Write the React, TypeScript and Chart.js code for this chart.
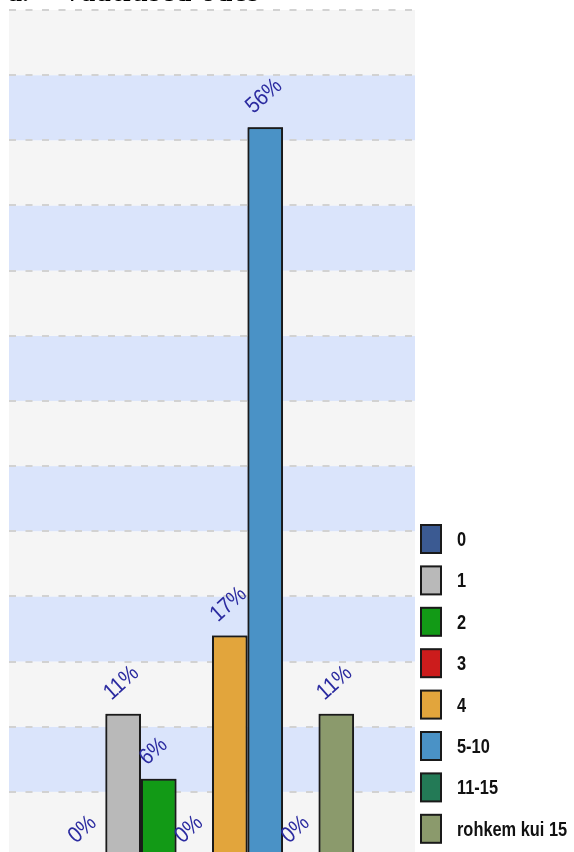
import React, { useEffect, useRef } from "react";
import { Chart, registerables } from "chart.js";

Chart.register(...registerables);

const categories = ["0", "1", "2", "3", "4", "5-10", "11-15", "rohkem kui 15"];
const values = [0, 11, 6, 0, 17, 56, 0, 11];
const valueLabels = ["0%", "11%", "6%", "0%", "17%", "56%", "0%", "11%"];
const barColors = ["#3b5a92", "#b9b9b9", "#129a16", "#cc1c1c", "#e2a53c", "#4a92c6", "#237a56", "#8b9a6c"];
const yMax = 65;
const yStep = 5;

const bandsPlugin = {
  id: "bands",
  beforeDraw(chart: any) {
    const { ctx, chartArea, scales } = chart;
    const y = scales.y;
    ctx.save();
    for (let v = 0, k = 0; v < yMax; v += yStep, k++) {
      const top = y.getPixelForValue(v + yStep);
      const bot = y.getPixelForValue(v);
      ctx.fillStyle = k % 2 === 0 ? "#f5f5f5" : "#dae4fb";
      ctx.fillRect(chartArea.left, top, chartArea.right - chartArea.left, bot - top);
    }
    ctx.restore();
  },
};

// Draw bars left-to-right, each followed by its label, so later bars cover earlier labels
const labelsPlugin = {
  id: "valueLabels",
  afterDatasetsDraw(chart: any) {
    const { ctx, chartArea } = chart;
    chart.data.datasets.forEach((ds: any, i: number) => {
      const el = chart.getDatasetMeta(i).data[0] as any;
      if (!el) return;
      ctx.save();
      ctx.beginPath();
      ctx.rect(chartArea.left, chartArea.top, chartArea.right - chartArea.left, chartArea.bottom - chartArea.top);
      ctx.clip();
      el.draw(ctx, chartArea);
      ctx.restore();
      const left = el.x - el.width / 2;
      ctx.save();
      ctx.fillStyle = "#2b2ba0";
      ctx.font = "19px 'Liberation Sans', sans-serif";
      ctx.textAlign = "left";
      ctx.textBaseline = "alphabetic";
      ctx.translate(left + 6, el.y - 13);
      ctx.rotate((-42 * Math.PI) / 180);
      ctx.scale(1.05, 1.2);
      ctx.fillText(ds.valueLabel, 0, 0);
      ctx.restore();
    });
  },
};

const legendPlugin = {
  id: "customLegend",
  afterDraw(chart: any) {
    const { ctx, chartArea } = chart;
    const boxX = chartArea.right + 6;
    const firstTop = 525;
    const step = 41.4;
    ctx.save();
    chart.data.datasets.forEach((ds: any, i: number) => {
      const top = firstTop + i * step;
      ctx.fillStyle = ds.backgroundColor;
      ctx.fillRect(boxX, top, 20, 28);
      ctx.strokeStyle = "#1a1a1a";
      ctx.lineWidth = 2;
      ctx.strokeRect(boxX, top, 20, 28);
      ctx.save();
      ctx.translate(boxX + 36, top + 21);
      ctx.scale(0.78, 1);
      ctx.fillStyle = "#111";
      ctx.font = "bold 21px 'Liberation Sans', sans-serif";
      ctx.textAlign = "left";
      ctx.textBaseline = "alphabetic";
      ctx.fillText(ds.label, 0, 0);
      ctx.restore();
    });
    ctx.restore();
  },
};

function BarChart() {
  const ref = useRef<HTMLCanvasElement>(null);
  useEffect(() => {
    if (!ref.current) return;
    const chart = new Chart(ref.current, {
      type: "bar",
      data: {
        labels: [""],
        datasets: categories.map((c, i) => ({
          label: c,
          data: [values[i]],
          valueLabel: valueLabels[i],
          backgroundColor: barColors[i],
          borderColor: "#1a1a1a",
          borderWidth: 2,
          barPercentage: 1,
          categoryPercentage: 0.7,
        })) as any,
      },
      options: {
        responsive: false,
        animation: false,
        devicePixelRatio: 1,
        layout: { padding: { left: 9, top: 10, right: 159, bottom: 1 } },
        plugins: {
          legend: { display: false },
          title: { display: false },
          tooltip: { enabled: false },
        },
        scales: {
          x: { display: false, offset: true },
          y: {
            min: 0,
            max: yMax,
            ticks: { display: false, stepSize: yStep },
            border: { display: false, dash: [7, 9.5] },
            grid: {
              drawTicks: false,
              color: "#d2d2d2",
              lineWidth: 2,
            },
          },
        },
      },
      plugins: [bandsPlugin, labelsPlugin, legendPlugin],
    });
    return () => chart.destroy();
  }, []);
  return (
    <canvas
      ref={ref}
      width={574}
      height={858}
      style={{ position: "absolute", left: 0, top: 0, width: 574, height: 858 }}
    />
  );
}

export default function App() {
  return (
    <div
      style={{
        position: "fixed",
        left: 0,
        top: 0,
        width: 574,
        height: 852,
        overflow: "hidden",
        background: "#fff",
      }}
    >
      <BarChart />
      <div
        style={{
          position: "absolute",
          left: 8,
          top: -22,
          fontFamily: "'Liberation Serif', serif",
          fontWeight: "bold",
          fontSize: 28,
          lineHeight: "28px",
          whiteSpace: "nowrap",
          color: "#000",
        }}
      >
        <span>a.</span>
        <span style={{ position: "absolute", left: 54, letterSpacing: 1.5 }}>Vaatlused odes</span>
      </div>
    </div>
  );
}
